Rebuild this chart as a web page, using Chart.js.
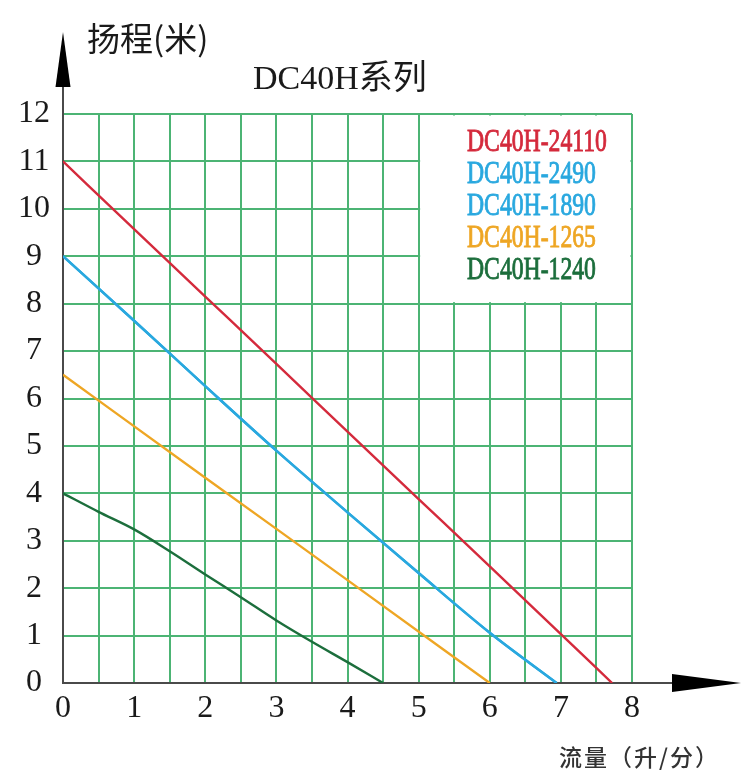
<!DOCTYPE html>
<html><head><meta charset="utf-8">
<script src="https://cdn.jsdelivr.net/npm/chart.js@4"></script>
<style>html,body{margin:0;padding:0;background:#fff}canvas{display:block}</style>
</head><body>
<canvas id="c" width="750" height="783"></canvas>
<script>
// ---- data ----
const seriesNames = ["DC40H-24110", "DC40H-2490", "DC40H-1890", "DC40H-1265", "DC40H-1240"];
const seriesColors = ["#d42a3c", "#29a8df", "#29a8df", "#eea624", "#1c6e3c"];

const flow24110 = [0, 1, 2, 3, 4, 5, 6, 7, 7.72];
const head24110 = [11, 9.57, 8.15, 6.73, 5.3, 3.88, 2.46, 1.03, 0];

const flow2490 = [0, 1, 2, 3, 4, 5, 6, 6.94];
const head2490 = [9, 7.64, 6.26, 4.9, 3.6, 2.32, 1.06, 0];

const flow1890 = [0, 1, 2, 3, 4, 5, 6, 6.94];
const head1890 = [9, 7.64, 6.26, 4.9, 3.6, 2.32, 1.06, 0];

const flow1265 = [0, 2, 4, 6];
const head1265 = [6.5, 4.33, 2.17, 0];

const flow1240 = [0, 0.5, 1, 1.5, 2, 2.5, 3, 3.5, 4, 4.5];
const head1240 = [4, 3.61, 3.24, 2.78, 2.29, 1.81, 1.32, 0.87, 0.44, 0];

const xTicks = [0, 1, 2, 3, 4, 5, 6, 7, 8];
const yTicks = [0, 1, 2, 3, 4, 5, 6, 7, 8, 9, 10, 11, 12];

const titleText = "DC40H系列";
const yTitle = "扬程(米)";
const xTitle = "流量（升/分）";

// ---- build ----
const flows = [flow24110, flow2490, flow1890, flow1265, flow1240];
const heads = [head24110, head2490, head1890, head1265, head1240];
const datasets = seriesNames.map((n, i) => ({
  label: n,
  data: flows[i].map((x, k) => ({x: x, y: heads[i][k]})),
  borderColor: seriesColors[i],
  backgroundColor: seriesColors[i],
  borderWidth: 2.4,
  pointRadius: 0,
  showLine: true,
  cubicInterpolationMode: "monotone",
  fill: false
}));

const GRID = "rgb(76,180,116)";
const AXIS = "#4a4a4a";

const deco = {
  id: "deco",
  beforeDatasetsDraw(chart) {
    const {ctx, scales: {x, y}} = chart;
    ctx.save();
    ctx.fillStyle = "#fff";
    const x0 = x.getPixelForValue(5) + 1.5, x1 = x.getPixelForValue(8) - 1.5;
    const y0 = y.getPixelForValue(12) + 1.5, y1 = y.getPixelForValue(8) - 1.5;
    ctx.fillRect(x0, y0, x1 - x0, y1 - y0);
    ctx.restore();
  },
  afterDraw(chart) {
    const {ctx, scales: {x, y}} = chart;
    const ox = x.getPixelForValue(0), oy = y.getPixelForValue(0);
    ctx.save();
    // axis extensions
    ctx.strokeStyle = AXIS; ctx.lineWidth = 2;
    ctx.beginPath();
    ctx.moveTo(ox, y.getPixelForValue(12)); ctx.lineTo(ox, 80);
    ctx.moveTo(x.getPixelForValue(8), oy); ctx.lineTo(680, oy);
    ctx.stroke();
    // arrow heads
    ctx.fillStyle = "#000";
    ctx.beginPath();
    ctx.moveTo(ox, 32); ctx.lineTo(ox - 7.5, 87); ctx.lineTo(ox + 7.5, 87); ctx.closePath(); ctx.fill();
    ctx.beginPath();
    ctx.moveTo(741, oy); ctx.lineTo(672, oy - 9); ctx.lineTo(672, oy + 9); ctx.closePath(); ctx.fill();
    // titles
    ctx.fillStyle = "#1a1a1a";
    ctx.textBaseline = "middle"; ctx.textAlign = "left";
    ctx.font = '400 33px "Noto Sans CJK SC"';
    ctx.fillText(yTitle, 87, 38);
    ctx.font = '34px "Liberation Serif", "Noto Sans CJK SC"';
    ctx.fillText(titleText, 253, 80);
    ctx.font = '500 23px "Noto Sans CJK SC"';
    ctx.fillStyle = "#333";
    ctx.letterSpacing = "2px";
    ctx.fillText(xTitle, 559, 757);
    ctx.letterSpacing = "0px";
    // legend (condensed serif)
    const lx = 467, ly = 143, step = 32;
    ctx.font = '32px "Liberation Serif"';
    chart.data.datasets.forEach((ds, i) => {
      ctx.save();
      ctx.translate(lx, ly + i * step);
      ctx.scale(0.74, 1);
      ctx.fillStyle = ds.borderColor;
      ctx.strokeStyle = ds.borderColor;
      ctx.lineWidth = 0.9;
      ctx.fillText(ds.label, 0, 0);
      ctx.strokeText(ds.label, 0, 0);
      ctx.restore();
    });
    ctx.restore();
  }
};

new Chart(document.getElementById("c"), {
  type: "scatter",
  data: {datasets: datasets},
  options: {
    responsive: false,
    animation: false,
    devicePixelRatio: 1,
    layout: {padding: {top: 114, right: 118, left: 0, bottom: 0}},
    plugins: {legend: {display: false}, title: {display: false}, tooltip: {enabled: false}},
    scales: {
      x: {
        type: "linear", min: 0, max: 8,
        afterFit: s => { s.height = 100; },
        afterBuildTicks: s => {
          const t = [];
          for (let v = 0; v <= 8; v += 0.5) t.push({value: v});
          s.ticks = t;
        },
        ticks: {
          autoSkip: false, maxRotation: 0, padding: 6, color: "#1a1a1a",
          font: {family: '"Liberation Serif"', size: 32},
          callback: v => xTicks.includes(v) ? String(v) : ""
        },
        grid: {color: GRID, lineWidth: 2, drawTicks: false},
        border: {color: AXIS, width: 2}
      },
      y: {
        type: "linear", min: 0, max: 12,
        afterFit: s => { s.width = 63; },
        afterBuildTicks: s => { s.ticks = yTicks.map(v => ({value: v})); },
        ticks: {
          autoSkip: false, padding: 13, crossAlign: "center", color: "#1a1a1a",
          font: {family: '"Liberation Serif"', size: 32}
        },
        grid: {color: GRID, lineWidth: 2, drawTicks: false},
        border: {color: AXIS, width: 2}
      }
    }
  },
  plugins: [deco]
});
</script>
</body></html>
